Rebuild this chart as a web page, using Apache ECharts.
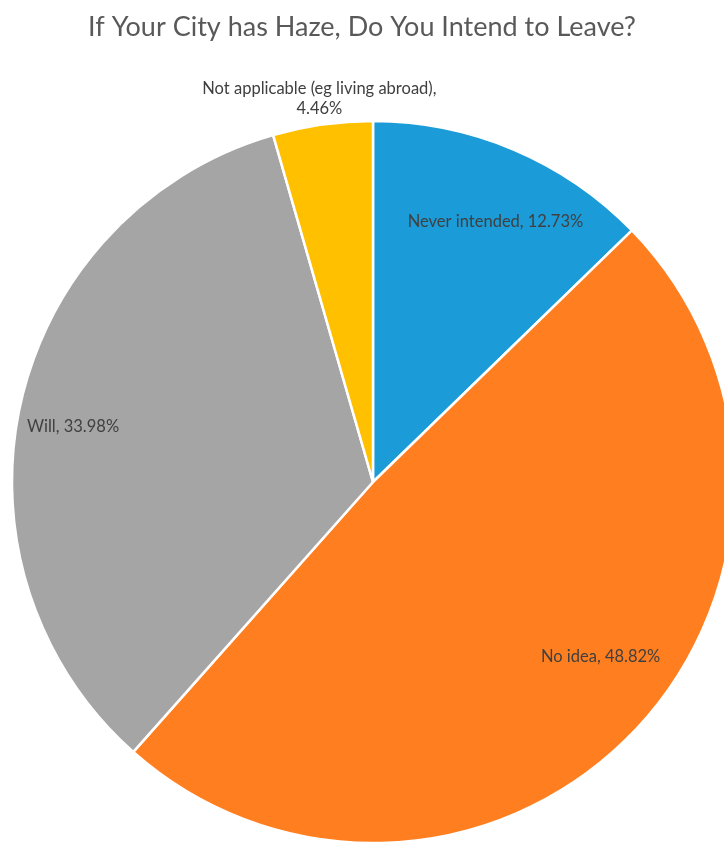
<!DOCTYPE html>
<html>
<head>
<meta charset="utf-8">
<style>
  html, body { margin: 0; padding: 0; background: #fff; }
  #chart { width: 724px; height: 844px; }
</style>
<script src="https://cdn.jsdelivr.net/npm/echarts@6/dist/echarts.min.js"></script>
</head>
<body>
<div id="chart"></div>
<script>
// Survey answers, in clockwise order from 12 o'clock
const categories = ['Never intended', 'No idea', 'Will', 'Not applicable (eg living abroad)'];
const shares = [12.73, 48.82, 33.98, 4.46];
const sliceColors = ['#1B9BD7', '#FF7F20', '#A5A5A5', '#FFC000'];

// Nudges applied to each label from its default inside position
const labelShift = [[51, -91], [95, 48], [-121, -15], [-28, -202]];

const chart = echarts.init(document.getElementById('chart'));

chart.setOption({
  animation: false,
  title: {
    text: 'If Your City has Haze, Do You Intend to Leave?',
    left: 'center',
    top: 9,
    textStyle: {
      fontFamily: 'Lato',
      fontSize: 27,
      fontWeight: 'normal',
      color: '#595959'
    }
  },
  series: [{
    type: 'pie',
    center: [373, 482],
    radius: 361,
    startAngle: 90,
    clockwise: true,
    avoidLabelOverlap: false,
    itemStyle: { borderColor: '#ffffff', borderWidth: 2.5 },
    label: {
      show: true,
      position: 'inside',
      fontFamily: 'Lato',
      fontSize: 16.5,
      color: '#404040',
      lineHeight: 20,
      align: 'center',
      formatter: p => {
        const pct = p.value.toFixed(2) + '%';
        return p.dataIndex === 3 ? p.name + ',\n' + pct : p.name + ', ' + pct;
      }
    },
    labelLine: { show: false },
    labelLayout: params => ({
      dx: labelShift[params.dataIndex][0],
      dy: labelShift[params.dataIndex][1]
    }),
    emphasis: { disabled: true },
    data: categories.map((name, i) => ({
      name: name,
      value: shares[i],
      itemStyle: { color: sliceColors[i] }
    }))
  }]
});
</script>
</body>
</html>
